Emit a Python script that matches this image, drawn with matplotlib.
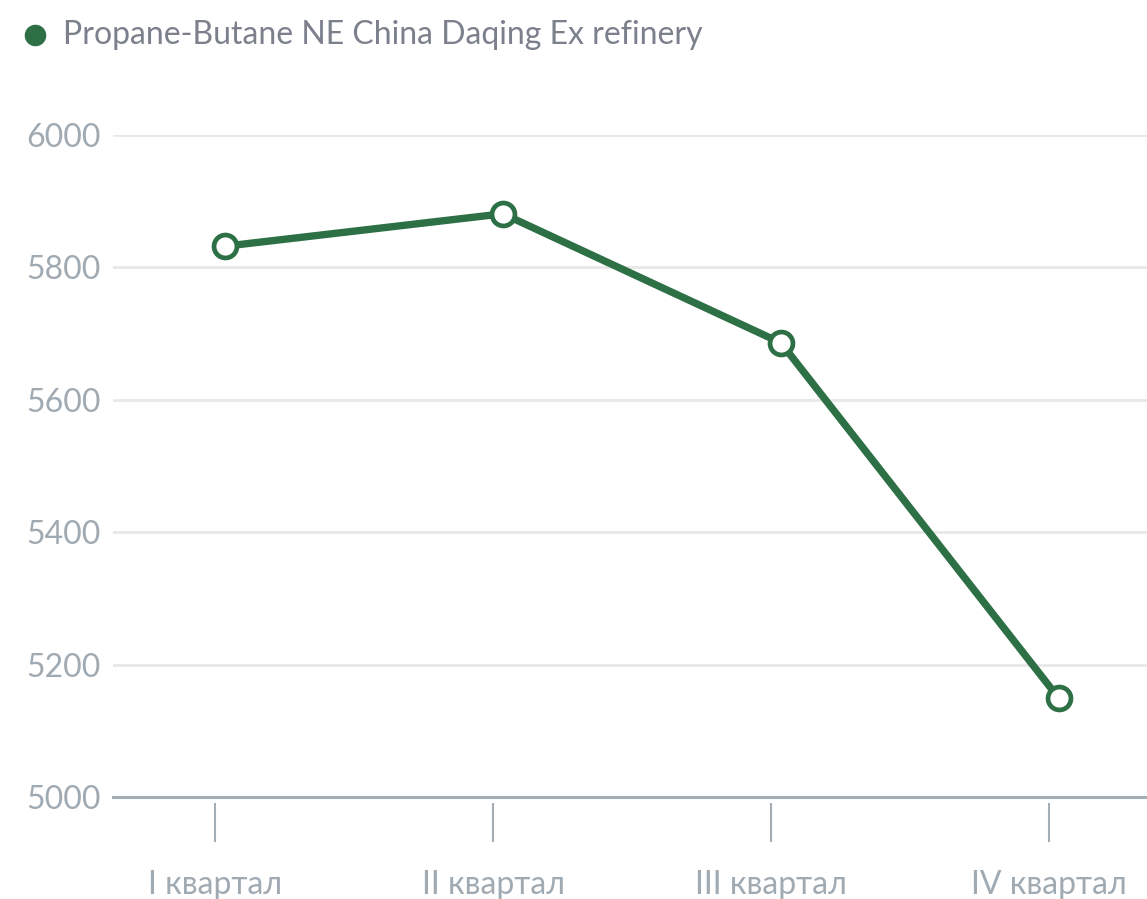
import matplotlib.pyplot as plt
from matplotlib.lines import Line2D
import numpy as np

quarters = ["I квартал", "II квартал", "III квартал", "IV квартал"]
prices = [5832, 5881, 5686, 5149]
series_name = "Propane-Butane NE China Daqing Ex refinery"
y_ticks = [5000, 5200, 5400, 5600, 5800, 6000]

green = "#2e7045"
axis_grey = "#a3adb6"
text_grey = "#a0aab3"
grid_grey = "#e8e8e8"

plt.rcParams['font.family'] = ['Lato', 'DejaVu Sans']

fig = plt.figure(figsize=(11.47, 8.99), dpi=100)
ax = fig.add_axes([113 / 1147, 1 - 797 / 899, 1 - 113 / 1147, (797 - 135) / 899])

x = np.arange(len(quarters))
ax.plot(x, prices, color=green, lw=5.3, zorder=3, solid_capstyle='round')
ax.plot(x, prices, 'o', ms=16.5, mfc='white', mec=green, mew=3.4, zorder=4)

ax.set_xlim(-0.403, 3.317)
ax.set_ylim(5000, 6000)

ax.set_yticks(y_ticks)
ax.set_yticklabels([str(v) for v in y_ticks])
for v in y_ticks[1:]:
    ax.axhline(v, color=grid_grey, lw=2, zorder=1)
ax.axhline(5000, color=axis_grey, lw=2.2, zorder=2, clip_on=False)

ax.set_xticks(x - 0.035)
ax.set_xticklabels(quarters)

for s in ax.spines.values():
    s.set_visible(False)
ax.spines['bottom'].set_position(('outward', 4.5))

ax.tick_params(axis='y', length=0, pad=9, labelsize=23, labelcolor=text_grey)
ax.tick_params(axis='x', length=28, width=1.5, color=axis_grey, pad=20,
               labelsize=23, labelcolor=text_grey)

# legend row at the top
fig.add_artist(Line2D([35 / 1147], [1 - 35 / 899], marker='o', ms=14.5,
                      color=green, transform=fig.transFigure))
fig.text(63 / 1147, 1 - 35 / 899, series_name, color="#7b808c", fontsize=23,
         ha='left', va='center')

fig.savefig("out.png", dpi=100)
